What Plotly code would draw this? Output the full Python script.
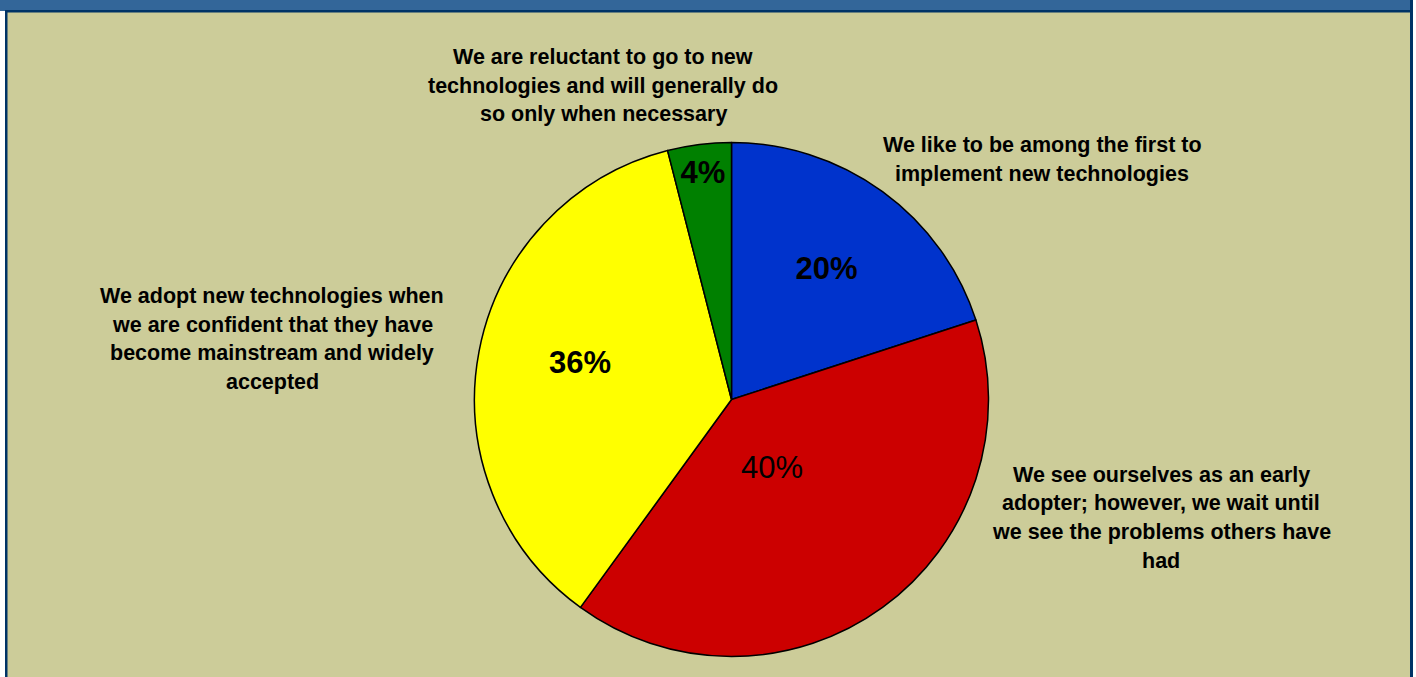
import plotly.graph_objects as go

# Survey: attitude toward adopting new technologies
categories = [
    "We like to be among the first to<br>implement new technologies",
    "We see ourselves as an early<br>adopter; however, we wait until<br>we see the problems others have<br>had",
    "We adopt new technologies when<br>we are confident that they have<br>become mainstream and widely<br>accepted",
    "We are reluctant to go to new<br>technologies and will generally do<br>so only when necessary",
]
shares = [20, 40, 36, 4]
slice_colors = ["#0033CC", "#CC0000", "#FFFF00", "#008000"]
# slices whose percentage is printed by the pie itself; the others get a placed label
pie_labelled = [True, False, False, True]
pct_bold = [True, False, True, True]

W, H = 1416, 677
BG = "#CCCC99"
FONT = "Liberation Sans, Arial, sans-serif"
PCT_SIZE = 31

# pie placement in pixels (center and radius)
cx, cy, R = 731.5, 399.5, 257

templates = []
for shown, bold in zip(pie_labelled, pct_bold):
    if not shown:
        templates.append("")
    else:
        templates.append("<b>%{percent:.0%}</b>" if bold else "%{percent:.0%}")

fig = go.Figure()
fig.add_trace(go.Pie(
    labels=categories,
    values=shares,
    sort=False,
    direction="clockwise",
    rotation=0,
    marker=dict(colors=slice_colors, line=dict(color="#000000", width=1.5)),
    texttemplate=templates,
    textposition="inside",
    insidetextorientation="horizontal",
    textfont=dict(family=FONT, size=PCT_SIZE, color="#000000"),
    hoverinfo="label+percent",
    showlegend=False,
    domain=dict(x=[(cx - R) / W, (cx + R) / W],
                y=[1 - (cy + R) / H, 1 - (cy - R) / H]),
))

# percentage labels for the two large lower slices
pct_pos = {1: (772, 468), 2: (580, 362)}
for i, (x, y) in pct_pos.items():
    txt = f"{shares[i]}%"
    fig.add_annotation(
        x=x / W, y=1 - y / H, xref="paper", yref="paper",
        text=f"<b>{txt}</b>" if pct_bold[i] else txt, showarrow=False,
        xanchor="center", yanchor="middle",
        font=dict(family=FONT, size=PCT_SIZE, color="#000000"),
    )

# category captions, one annotation per line for the wider line spacing
caption_pos = [(1042, 145), (1161, 475), (272, 296), (603, 57)]
LINE_GAP = 28.5
for text, (x, y) in zip(categories, caption_pos):
    for i, line in enumerate(text.split("<br>")):
        fig.add_annotation(
            x=x / W, y=1 - (y + i * LINE_GAP) / H, xref="paper", yref="paper",
            text=f"<b>{line}</b>", showarrow=False,
            xanchor="center", yanchor="middle",
            font=dict(family=FONT, size=21.5, color="#000000"),
        )

# frame: blue banner on top, navy rules at top and sides
shapes = [
    dict(type="rect", x0=0, x1=W, y0=0, y1=11, fillcolor="#336699", line_width=0),
    dict(type="rect", x0=5, x1=W - 3, y0=10, y1=12.5, fillcolor="#003366", line_width=0),
    dict(type="rect", x0=5, x1=7.5, y0=10, y1=H, fillcolor="#003366", line_width=0),
    dict(type="rect", x0=1410, x1=1413, y0=0, y1=H, fillcolor="#003366", line_width=0),
    dict(type="rect", x0=0, x1=5, y0=11, y1=H, fillcolor="#FFFFFF", line_width=0),
    dict(type="rect", x0=1413, x1=W, y0=0, y1=H, fillcolor="#FFFFFF", line_width=0),
]
for s in shapes:
    fig.add_shape(xref="paper", yref="paper", layer="below",
                  **{**s, "x0": s["x0"] / W, "x1": s["x1"] / W,
                     "y0": 1 - s["y0"] / H, "y1": 1 - s["y1"] / H})

fig.update_layout(
    width=W, height=H,
    margin=dict(l=0, r=0, t=0, b=0),
    paper_bgcolor=BG,
    plot_bgcolor=BG,
    font=dict(family=FONT),
)

fig.write_html("out.html")
